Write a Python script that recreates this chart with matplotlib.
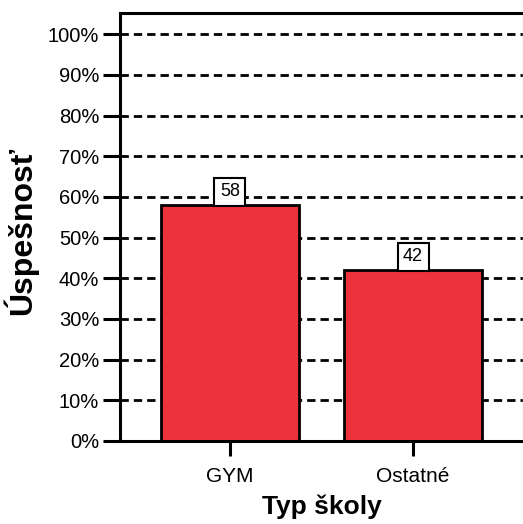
import matplotlib
matplotlib.use('Agg')
import matplotlib.pyplot as plt

plt.rcParams['font.family'] = ['Liberation Sans', 'DejaVu Sans']

# data
categories = ['GYM', 'Ostatné']
values = [58, 42]
yticks = [0, 10, 20, 30, 40, 50, 60, 70, 80, 90, 100]

fig = plt.figure(figsize=(5.23, 5.24), dpi=100)
ax = fig.add_axes([120/523, 83/524, 403/523, 428/524])

x = range(len(categories))
# dashed horizontal grid behind the bars
for t in yticks[1:]:
    ax.axhline(t, color='black', lw=2, ls=(0, (3.0, 1.8)), zorder=1)
bars = ax.bar(x, values, width=0.75, color='#EE323C', edgecolor='black', linewidth=2, zorder=2)

for xi, v in zip(x, values):
    ax.annotate(str(v), (xi, v), xytext=(0, 3.5), textcoords='offset points',
                ha='center', va='bottom', fontsize=13, zorder=3,
                bbox=dict(boxstyle='square,pad=0.3', fc='white', ec='black', lw=1.5))

ax.set_xlim(-0.6, 1.6)
ax.set_ylim(0, 105.2)
ax.set_xticks(list(x))
ax.set_xticklabels(categories, fontsize=15)
ax.set_yticks(yticks)
ax.set_yticklabels([f'{t}%' for t in yticks], fontsize=14.5)
ax.tick_params(axis='y', length=12, width=2.2, pad=3)
ax.tick_params(axis='x', length=11, width=2.2, pad=8)

for s in ['left', 'top', 'bottom']:
    ax.spines[s].set_linewidth(2.2)
ax.spines['right'].set_color('#cccccc')
ax.spines['right'].set_linewidth(1)

ax.set_ylabel('Úspešnosť', fontsize=23, fontweight='bold')
ax.yaxis.set_label_coords(-0.203, 0.49)
ax.set_xlabel('Typ školy', fontsize=19, fontweight='bold')
ax.xaxis.set_label_coords(0.5, -0.125)

plt.savefig('out.png', dpi=100)
